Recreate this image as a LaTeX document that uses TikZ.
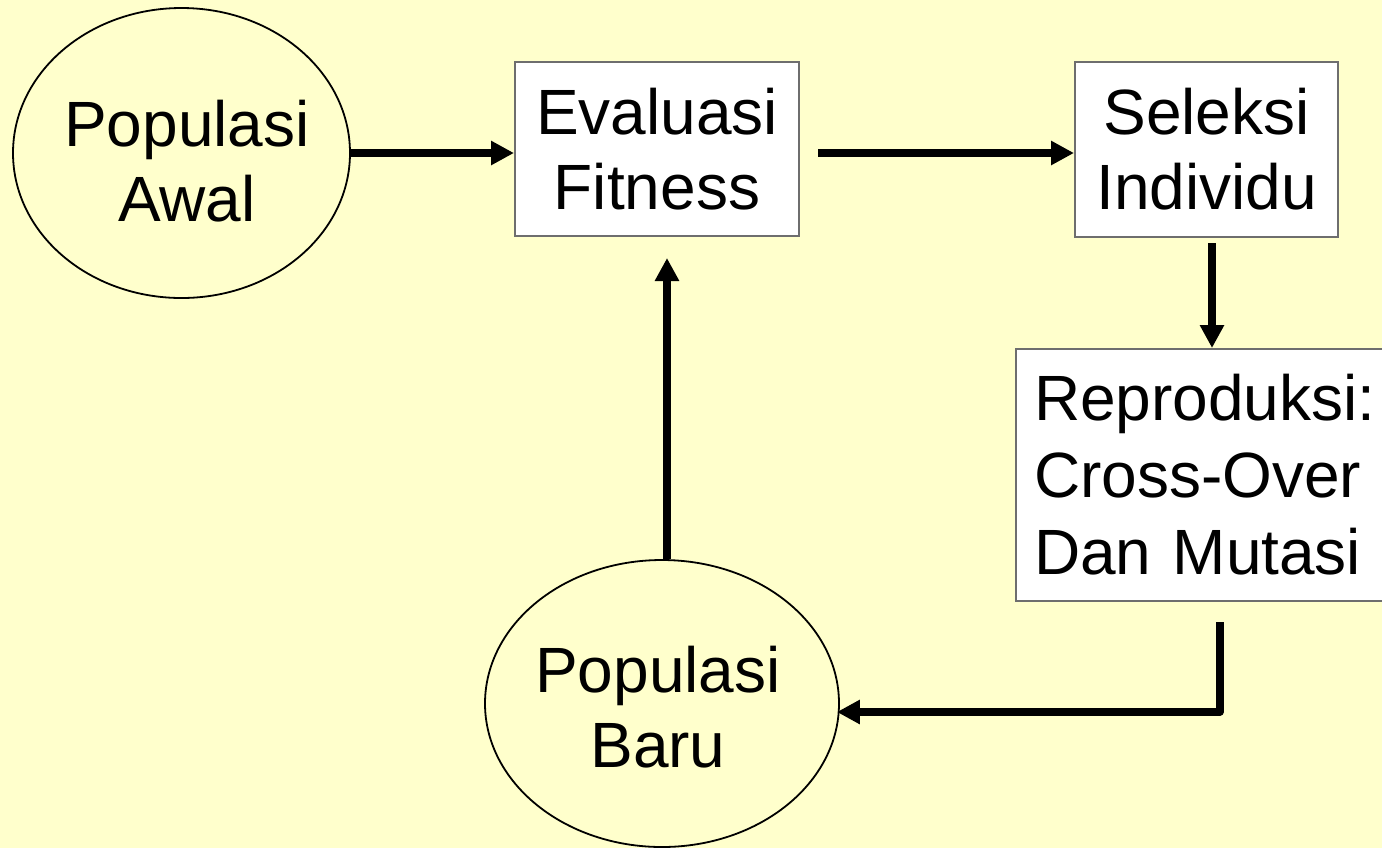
\documentclass[tikz,border=0pt]{standalone}
\usepackage{fontspec}
\setmainfont{Liberation Sans}
\usetikzlibrary{arrows.meta,shapes.geometric}
\definecolor{bgyellow}{HTML}{FFFFCC}
\definecolor{boxgray}{HTML}{6E6E6E}
\tikzset{
  bigtext/.style={font=\fontsize{32pt}{37.5pt}\selectfont, text=black, align=center},
  ell/.style={ellipse, draw=black, line width=0.9pt, fill=bgyellow, inner sep=0pt},
  boxnode/.style={rectangle, draw=boxgray, line width=1pt, fill=white, inner sep=0pt, bigtext},
  arr/.style={line width=3.6pt, -{Triangle[length=11.5pt,width=11.5pt]}, line join=round}
}
\begin{document}
\begin{tikzpicture}[x=0.5pt,y=-0.5pt]
\clip (0,0) rectangle (1382,848);
\fill[bgyellow] (0,0) rectangle (1382,848);

\node[ell, minimum width=168.5pt, minimum height=145pt] (pa) at (181.5,153) {};
\node[bigtext] (pat) at (187,161) {Populasi\\Awal};
\node[ell, minimum width=177pt, minimum height=143.5pt] (pb) at (662,703.5) {};
\node[bigtext] (pbt) at (658,707) {Populasi\\Baru};
\node[boxnode, minimum width=142pt, minimum height=87pt] (ev) at (657,149) {Evaluasi\\Fitness};
\node[boxnode, minimum width=131.5pt, minimum height=87.5pt] (sel) at (1206.5,149.5) {Seleksi\\Individu};
\node[boxnode, anchor=west, align=left, text width=180pt, inner xsep=9pt, minimum height=126pt, font=\fontsize{32pt}{38.5pt}\selectfont] (rep) at (1015,475) {Reproduksi:\\Cross-Over\\Dan Mutasi};

\coordinate (s2) at (818,153);
\coordinate (s3) at (1212,243);
\coordinate (s4) at (1220,622);
\coordinate (e5) at (667,258);

\draw[arr] (pa.east) -- (pa.east -| ev.west);
\draw[arr] (s2) -- (s2 -| sel.west);
\draw[arr] (s3) -- (s3 |- rep.north);
\draw[arr] (s4) |- ([xshift=-1.5pt,yshift=-4.25pt]pb.east);
\draw[arr] ([xshift=2.5pt]pb.north) -- (e5);
\end{tikzpicture}
\end{document}
